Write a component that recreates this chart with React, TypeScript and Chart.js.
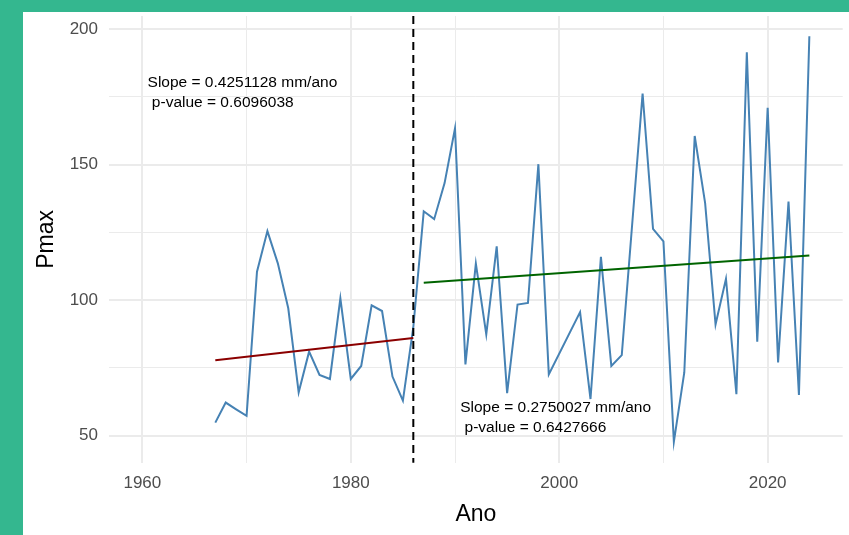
import { useEffect, useRef } from 'react';
import { Chart, registerables } from 'chart.js';

Chart.register(...registerables);

const years = [
  1967, 1968, 1969, 1970, 1971, 1972, 1973, 1974, 1975, 1976, 1977, 1978, 1979, 1980,
  1981, 1982, 1983, 1984, 1985, 1986, 1987, 1988, 1989, 1990, 1991, 1992, 1993, 1994,
  1995, 1996, 1997, 1998, 1999, 2002, 2003, 2004, 2005, 2006, 2008, 2009, 2010, 2011,
  2012, 2013, 2014, 2015, 2016, 2017, 2018, 2019, 2020, 2021, 2022, 2023, 2024,
];
const pmax = [
  54.8, 62.2, 59.7, 57.3, 110.5, 125.5, 113.6, 97, 66, 81, 72.4, 70.9, 100.7, 70.9,
  75.7, 98.1, 96, 71.8, 62.9, 90, 132.8, 129.9, 143.2, 163.4, 76.3, 113.5, 87.4, 119.9,
  65.7, 98.4, 99, 150.2, 72.6, 95.6, 63.5, 116, 75.7, 79.7, 176.3, 126.3, 121.7, 47.7,
  73.3, 160.6, 135.8, 91, 107.9, 65.3, 191.5, 84.7, 171, 77, 136.4, 65, 197.4,
];

const breakYear = 1986;
const trendRedYears = [1967, 1986];
const trendRedValues = [77.8, 86.0];
const trendGreenYears = [1987, 2024];
const trendGreenValues = [106.4, 116.5];

const xMajorTicks = [1960, 1980, 2000, 2020];
const xMinorTicks = [1970, 1990, 2010];
const yMajorTicks = [50, 100, 150, 200];
const yMinorTicks = [75, 125, 175];
const xRange = [1956.8, 2027.2];
const yRange = [40.0, 204.9];

const annoX = [1960.5, 1990.5];
const annoY = [178.7, 58.6];
const annoLine1 = ['Slope = 0.4251128 mm/ano', 'Slope = 0.2750027 mm/ano'];
const annoLine2 = [' p-value = 0.6096038', ' p-value = 0.6427666'];

const FONT = '"Liberation Sans", Arial, Helvetica, sans-serif';

export default function App() {
  const ref = useRef<HTMLCanvasElement | null>(null);

  useEffect(() => {
    if (!ref.current) return;
    const overlay = {
      id: 'overlay',
      afterDatasetsDraw(chart: any) {
        const { ctx, chartArea, scales } = chart;
        const xs = scales.x;
        const ys = scales.y;
        ctx.save();
        const bx = xs.getPixelForValue(breakYear);
        ctx.strokeStyle = '#000000';
        ctx.lineWidth = 2;
        ctx.setLineDash([8, 5]);
        ctx.beginPath();
        ctx.moveTo(bx, chartArea.top);
        ctx.lineTo(bx, chartArea.bottom);
        ctx.stroke();
        ctx.setLineDash([]);
        ctx.fillStyle = '#000000';
        ctx.font = `15.5px ${FONT}`;
        ctx.textAlign = 'left';
        ctx.textBaseline = 'alphabetic';
        for (let i = 0; i < annoX.length; i++) {
          const px = xs.getPixelForValue(annoX[i]);
          const py = ys.getPixelForValue(annoY[i]);
          ctx.fillText(annoLine1[i], px, py);
          ctx.fillText(annoLine2[i], px, py + 20);
        }
        ctx.restore();
      },
    };

    const chart = new Chart(ref.current, {
      type: 'line',
      data: {
        datasets: [
          {
            data: trendRedYears.map((x, i) => ({ x, y: trendRedValues[i] })),
            borderColor: '#8b0000',
            borderWidth: 2,
            pointRadius: 0,
            order: 1,
          },
          {
            data: trendGreenYears.map((x, i) => ({ x, y: trendGreenValues[i] })),
            borderColor: '#006400',
            borderWidth: 2,
            pointRadius: 0,
            order: 1,
          },
          {
            data: years.map((x, i) => ({ x, y: pmax[i] })),
            borderColor: '#4682b4',
            borderWidth: 2,
            pointRadius: 0,
            tension: 0,
            order: 2,
          },
        ],
      },
      options: {
        animation: false,
        responsive: true,
        maintainAspectRatio: false,
        layout: { padding: { left: 0, right: 6.3, top: 4, bottom: 0 } },
        plugins: {
          legend: { display: false },
          tooltip: { enabled: false },
        },
        scales: {
          x: {
            type: 'linear',
            min: xRange[0],
            max: xRange[1],
            afterBuildTicks: (scale: any) => {
              scale.ticks = [...xMajorTicks, ...xMinorTicks]
                .sort((a, b) => a - b)
                .map((v) => ({ value: v }));
            },
            afterFit: (scale: any) => {
              scale.height = 72.3;
              scale.paddingLeft = 0;
              scale.paddingRight = 0;
              scale.paddingTop = 0;
              scale.paddingBottom = 0;
            },
            ticks: {
              autoSkip: false,
              maxRotation: 0,
              padding: 10,
              color: '#4d4d4d',
              font: { family: FONT, size: 17 },
              callback: (v: any) => (xMajorTicks.includes(Number(v)) ? String(v) : ''),
            },
            grid: {
              drawTicks: false,
              color: '#ebebeb',
              lineWidth: (c: any) => (c.tick && xMajorTicks.includes(c.tick.value) ? 2 : 1),
            },
            border: { display: false },
            title: {
              display: true,
              text: 'Ano',
              color: '#000000',
              font: { family: FONT, size: 23 },
              padding: { top: 0, bottom: 7 },
            },
          },
          y: {
            type: 'linear',
            min: yRange[0],
            max: yRange[1],
            afterBuildTicks: (scale: any) => {
              scale.ticks = [...yMajorTicks, ...yMinorTicks]
                .sort((a, b) => a - b)
                .map((v) => ({ value: v }));
            },
            afterFit: (scale: any) => {
              scale.width = 86;
              scale.paddingLeft = 0;
              scale.paddingRight = 0;
              scale.paddingTop = 0;
              scale.paddingBottom = 0;
            },
            ticks: {
              autoSkip: false,
              padding: 11,
              color: '#4d4d4d',
              font: { family: FONT, size: 17 },
              callback: (v: any) => (yMajorTicks.includes(Number(v)) ? String(v) : ''),
            },
            grid: {
              drawTicks: false,
              color: '#ebebeb',
              lineWidth: (c: any) => (c.tick && yMajorTicks.includes(c.tick.value) ? 2 : 1),
            },
            border: { display: false },
            title: {
              display: true,
              text: 'Pmax',
              color: '#000000',
              font: { family: FONT, size: 23 },
              padding: { top: 10, bottom: 0 },
            },
          },
        },
      },
      plugins: [overlay],
    } as any);

    return () => chart.destroy();
  }, []);

  return (
    <div
      style={{
        position: 'fixed',
        left: 0,
        top: 0,
        width: 849,
        height: 535,
        background: '#34b78f',
        overflow: 'hidden',
      }}
    >
      <div
        style={{
          position: 'absolute',
          left: 23,
          top: 12,
          width: 826,
          height: 523,
          background: '#ffffff',
        }}
      >
        <canvas ref={ref} style={{ display: 'block', width: '100%', height: '100%' }} />
      </div>
    </div>
  );
}
